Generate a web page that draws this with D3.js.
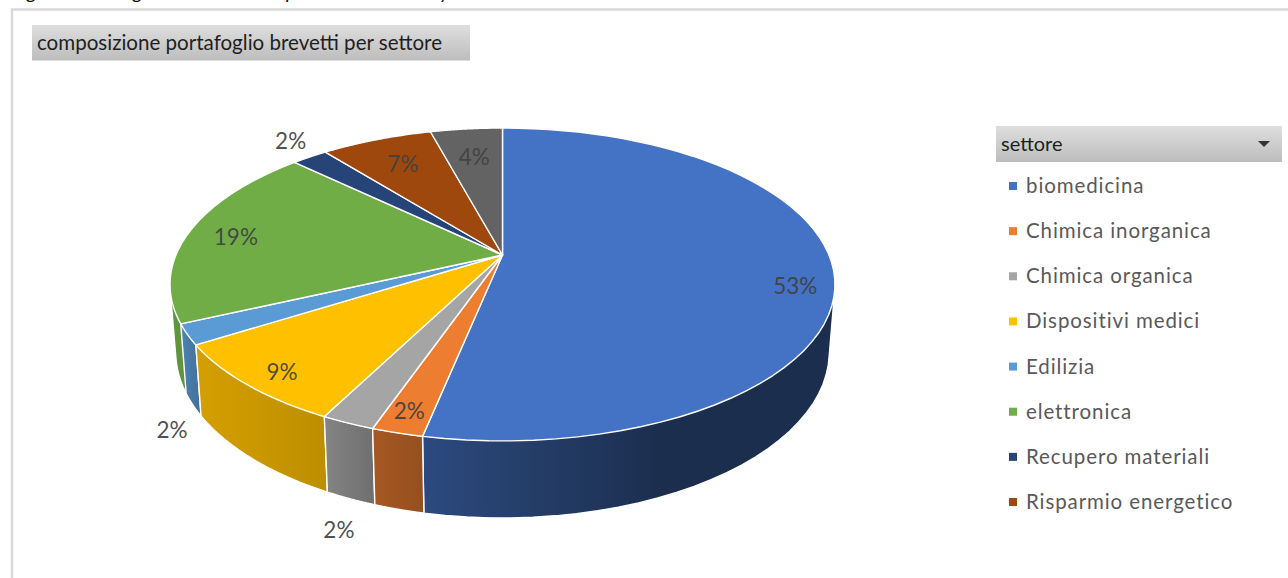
<!DOCTYPE html>
<html><head><meta charset="utf-8">
<script src="https://cdnjs.cloudflare.com/ajax/libs/d3/7.8.5/d3.min.js"></script>
<style>html,body{margin:0;padding:0;background:#fff;overflow:hidden}svg{display:block}text{font-family:Lato,"Open Sans",sans-serif}</style>
</head><body><svg id="c" width="1288" height="578"></svg>
<script>
// data
const legendNames=["biomedicina","Chimica inorganica","Chimica organica","Dispositivi medici","Edilizia","elettronica","Recupero materiali","Risparmio energetico"];
const shares=[53.2,2.1,2.2,8.5,2.1,19.1,2.1,6.5,4.2];
const colours=["#4472C4","#ED7D31","#A5A5A5","#FFC000","#5B9BD5","#70AD47","#264478","#9E480E","#636363"];
const chartTitle="composizione portafoglio brevetti  per settore";
const legendTitle="settore";

// layout of the perspective pie
const W=1288,H=578,cx=502.5,apexY=255,A=326.5,B=150.9,k=0.1885;
const wallSX=0.983,wallSY=1.0625,wallApexY=320.4;
const wallShade=[[.65,.40],[.70,.63],[.80,.67],[.83,.74],[.84,.72],[.86,.78],[.6,.5],[.6,.5],[.6,.5]];
const labelPlace=[[.886,0,17],[.896,-1,0],[1,-9,107],[.915,10,0],[1,-15.5,95.5],[.85,0,3],[1,-19,-16],[.763,0,0],[.747,0,0]];

const svg=d3.select("#c");
const defs=svg.append("defs");
const grey=defs.append("linearGradient").attr("id","hdr").attr("x1",0).attr("x2",0).attr("y1",0).attr("y2",1);
grey.append("stop").attr("offset",0).attr("stop-color","#dedede");
grey.append("stop").attr("offset",1).attr("stop-color","#bdbdbd");

// frame
svg.append("rect").attr("x",12).attr("y",9.5).attr("width",W).attr("height",H).attr("fill","none").attr("stroke","#d9d9d9").attr("stroke-width",2.5);
// clipped caption above the frame
[["g",27],["g",133],["p",286],["y",440]].forEach(([t,x])=>svg.append("text").attr("x",x).attr("y",-1).attr("font-size",20).attr("font-style","italic").attr("fill","#111").text(t));

// title button
svg.append("rect").attr("x",32).attr("y",25).attr("width",438).attr("height",35.5).attr("fill","url(#hdr)");
svg.append("text").attr("x",37).attr("y",50).attr("font-size",21).attr("fill","#1f1f1f").attr("textLength",405).attr("lengthAdjust","spacingAndGlyphs").text(chartTitle);

// pie geometry
const pie=d3.pie().sort(null).startAngle(0).endAngle(2*Math.PI);
const arcs=pie(shares);
function topPt(t,r=1){const u=r*Math.sin(t),v=-r*Math.cos(t),d=1-k*v;return [cx+A*u/d,apexY+B*v/d];}
function botPt(t){const p=topPt(t);return [cx+(p[0]-cx)*wallSX,wallApexY+(p[1]-apexY)*wallSY];}
const samples=(a)=>d3.range(0,61).map(i=>a.startAngle+(a.endAngle-a.startAngle)*i/60);
const line=d3.line().curve(d3.curveLinearClosed);
const colour=d3.scaleOrdinal().domain(d3.range(shares.length)).range(colours);

// walls, back to front
const order=arcs.map((a,i)=>({a,i})).sort((p,q)=>{
  const y=o=>-Math.cos((o.a.startAngle+o.a.endAngle)/2);return y(p)-y(q);});
order.forEach(({a,i})=>{
  const ts=samples(a),up=ts.map(t=>topPt(t)),dn=ts.map(t=>botPt(t));
  const xs=up.concat(dn).map(p=>p[0]);
  const x0=i===0?d3.min(dn,p=>p[0]):d3.min(xs);
  const x1=i===0?Math.min(d3.max(xs),660):d3.max(xs);
  const g=defs.append("linearGradient").attr("id","w"+i).attr("gradientUnits","userSpaceOnUse").attr("x1",i===0?424:x0).attr("x2",x1).attr("y1",0).attr("y2",0);
  const base=d3.rgb(colour(i));
  const sh=s=>d3.rgb(base.r*s,base.g*s,base.b*s).formatHex();
  g.append("stop").attr("offset",0).attr("stop-color",sh(wallShade[i][0]));
  g.append("stop").attr("offset",1).attr("stop-color",sh(wallShade[i][1]));
  svg.append("path").attr("d",line(d3.polygonHull(up.concat(dn)))).attr("fill",`url(#w${i})`).attr("stroke","#fff").attr("stroke-width",1.4);
});
// faces on top
arcs.forEach((a,i)=>{
  const pts=[topPt(0,0)].concat(samples(a).map(t=>topPt(t)));
  svg.append("path").attr("d",line(pts)).attr("fill",colour(i)).attr("stroke","#fff").attr("stroke-width",1.4).attr("stroke-linejoin","round");
});
// percentage labels
arcs.forEach((a,i)=>{
  const [r,dx,dy]=labelPlace[i],p=topPt((a.startAngle+a.endAngle)/2,r);
  svg.append("text").attr("x",p[0]+dx).attr("y",p[1]+dy).attr("dy",".36em").attr("text-anchor","middle").attr("font-size",22.5).attr("fill","#404040").attr("fill-opacity",.92).text(Math.round(a.data)+"%");
});

// legend
svg.append("rect").attr("x",996).attr("y",126).attr("width",286).attr("height",36).attr("fill","url(#hdr)");
svg.append("text").attr("x",1001).attr("y",151).attr("font-size",20).attr("fill","#1f1f1f").text(legendTitle);
svg.append("path").attr("d",line([[1258,141],[1270,141],[1264,147]])).attr("fill","#333");
const ly=d3.scalePoint().domain(legendNames).range([186,502]);
const lg=svg.selectAll("g.l").data(legendNames).join("g").attr("class","l").attr("transform",d=>`translate(0,${ly(d)})`);
lg.append("rect").attr("x",1009).attr("y",-4).attr("width",8).attr("height",8).attr("fill",(d,i)=>colour(i));
lg.append("text").attr("x",1026).attr("dy",".34em").attr("font-size",20.5).attr("letter-spacing",.9).attr("fill","#595959").text(d=>d);
</script></body></html>
